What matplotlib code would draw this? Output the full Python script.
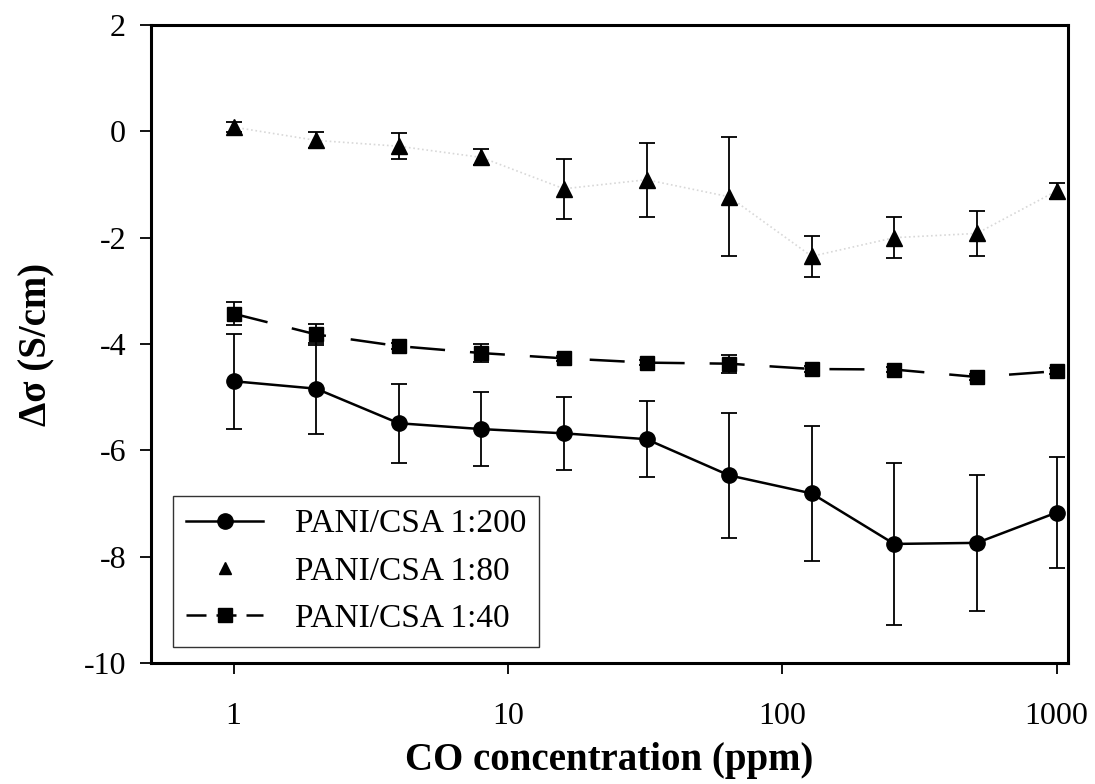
import matplotlib
matplotlib.use('Agg')
import matplotlib.pyplot as plt
from matplotlib.lines import Line2D
import numpy as np

plt.rcParams['font.family'] = ['Liberation Serif', 'DejaVu Serif']
plt.rcParams['axes.unicode_minus'] = False

# CO concentration (ppm)
conc = [1, 2, 4, 8, 16, 32, 64, 128, 256, 512, 1000]

# PANI/CSA 1:200
s200 = [-4.70, -4.84, -5.49, -5.60, -5.68, -5.79, -6.47, -6.81, -7.76, -7.74, -7.17]
e200 = [0.89, 0.85, 0.74, 0.69, 0.69, 0.71, 1.17, 1.27, 1.53, 1.28, 1.04]

# PANI/CSA 1:80
s80 = [0.08, -0.17, -0.28, -0.49, -1.08, -0.91, -1.23, -2.35, -2.00, -1.92, -1.12]
e80 = [0.10, 0.15, 0.24, 0.15, 0.56, 0.70, 1.12, 0.39, 0.38, 0.42, 0.15]

# PANI/CSA 1:40
s40 = [-3.43, -3.82, -4.04, -4.17, -4.27, -4.35, -4.37, -4.47, -4.48, -4.62, -4.51]
e40 = [0.22, 0.20, 0.05, 0.17, 0.05, 0.05, 0.17, 0.05, 0.05, 0.05, 0.05]

labels = ['PANI/CSA 1:200', 'PANI/CSA 1:80', 'PANI/CSA 1:40']

fig = plt.figure(figsize=(10.95, 7.84), dpi=100)
ax = fig.add_axes([0.1379, 0.1543, 0.8374, 0.8138])

eb = dict(ecolor='black', elinewidth=1.3, capsize=6, capthick=1.3)
dash = (0, (14, 10))

ax.errorbar(conc, s200, yerr=e200, color='black', marker='o', markersize=11,
            linewidth=1.8, **eb)
ax.plot(conc, s80, color='#d8d8d8', linestyle=':', linewidth=1.2, zorder=0)
ax.errorbar(conc, s80, yerr=e80, color='black', marker='^', markersize=11,
            linestyle='none', **eb)
ax.errorbar(conc, s40, yerr=e40, color='black', marker='s', markersize=9.5,
            linewidth=1.8, linestyle=dash, **eb)

ax.set_xscale('log')
ax.set_xlim(0.5, 1100)
ax.set_ylim(-10, 2)
ax.set_xticks([1, 10, 100, 1000])
ax.set_xticklabels(['1', '10', '100', '1000'])
ax.xaxis.set_minor_locator(matplotlib.ticker.NullLocator())
ax.set_yticks([2, 0, -2, -4, -6, -8, -10])

for sp in ax.spines.values():
    sp.set_linewidth(2.2)
ax.tick_params(direction='out', length=8, width=1.3, labelsize=23)
ax.tick_params(axis='x', pad=20)
ax.tick_params(axis='y', pad=10)

ax.set_xlabel('CO concentration (ppm)', fontsize=28, fontweight='bold', labelpad=8)
ax.set_ylabel('Δσ (S/cm)', fontsize=28, fontweight='bold', labelpad=20)

handles = [
    Line2D([], [], color='black', marker='o', markersize=11, linewidth=1.8),
    Line2D([], [], color='black', marker='^', markersize=9, linestyle='none'),
    Line2D([], [], color='black', marker='s', markersize=9.5, linewidth=1.8,
           linestyle=(0, (8, 4))),
]
leg = ax.legend(handles, labels, loc='lower left', fontsize=24, frameon=True,
                fancybox=False, edgecolor='black', handlelength=2.3,
                borderpad=0.4, labelspacing=0.5, handletextpad=0.95,
                borderaxespad=0, bbox_to_anchor=(0.024, 0.025))
leg.get_frame().set_linewidth(1.0)

fig.savefig('out.png', dpi=100)
